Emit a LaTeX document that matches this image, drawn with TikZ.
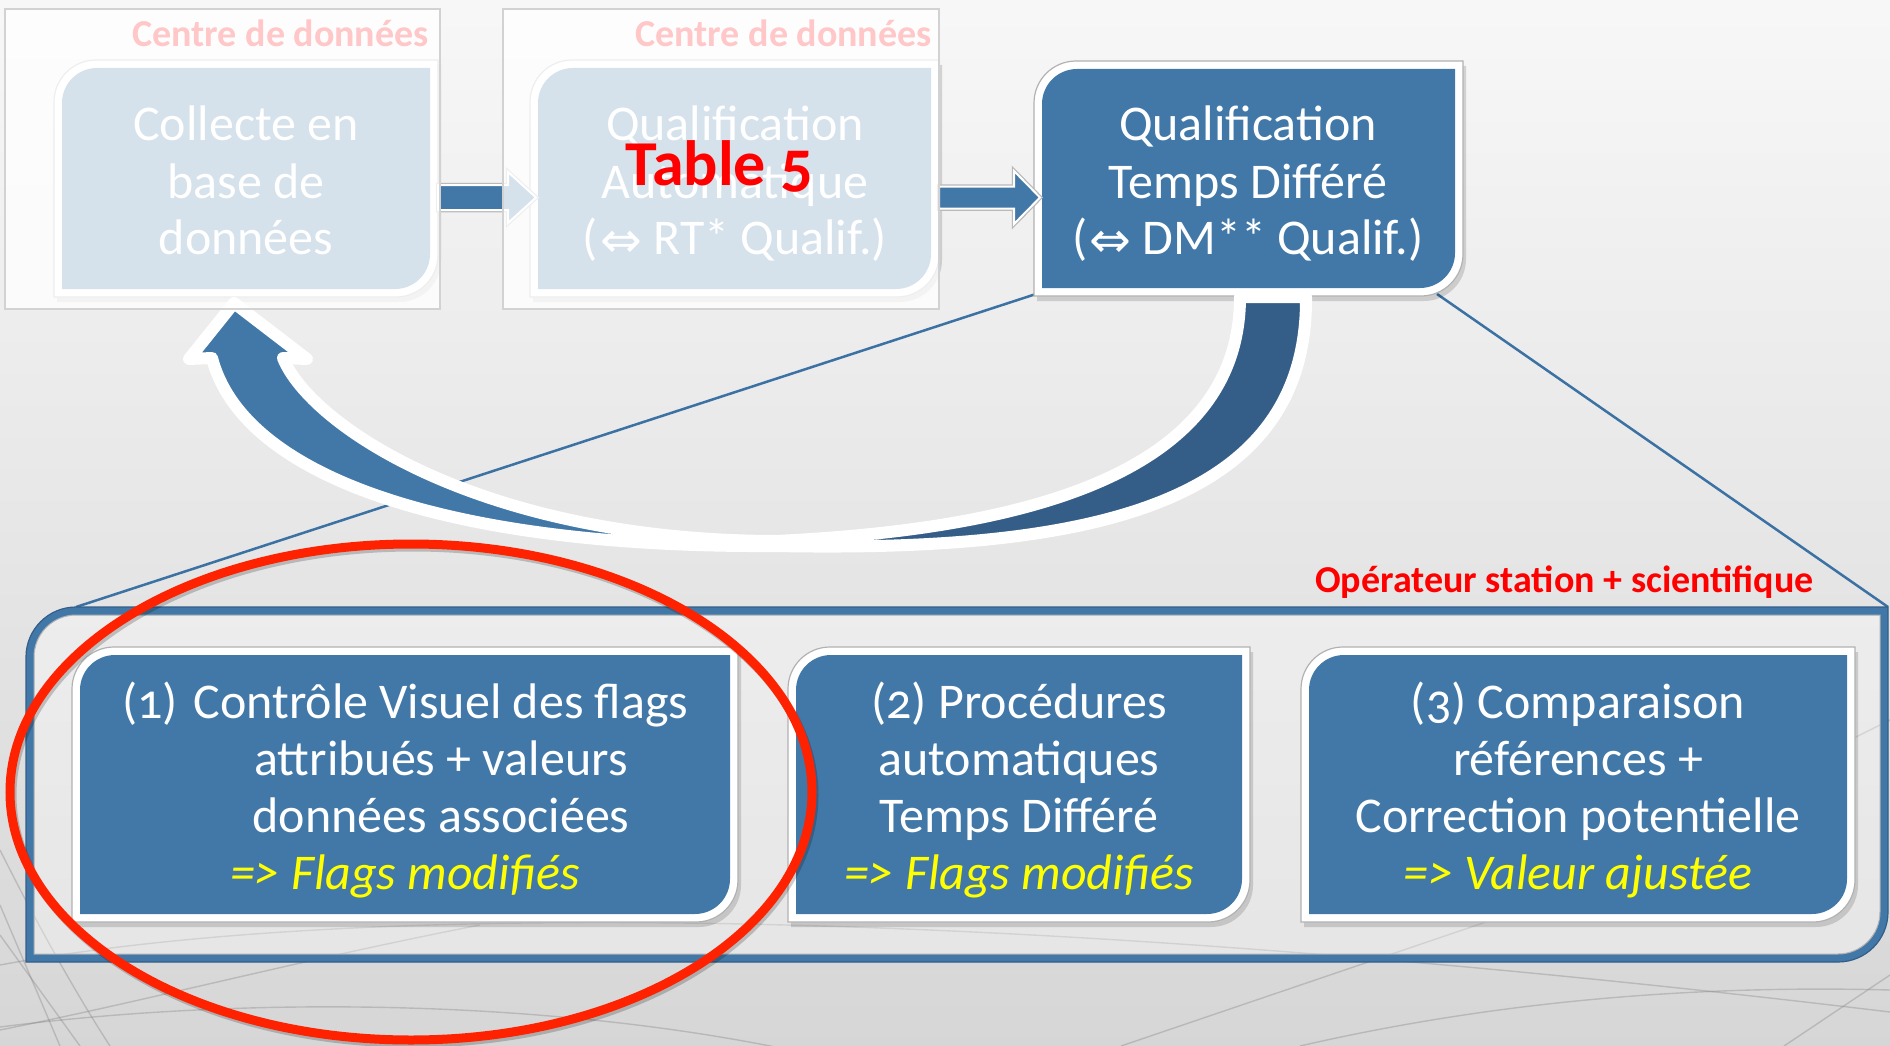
\documentclass[tikz,border=0pt]{standalone}
\usepackage{fontspec}
\setmainfont{Carlito}[Numbers=OldStyle]
\newfontfamily\symfont{DejaVu Sans}
\definecolor{boxblue}{HTML}{4178A8}
\definecolor{backblue}{HTML}{345E88}
\definecolor{linblue}{HTML}{3B71A3}
\definecolor{ringred}{HTML}{FF2200}
\definecolor{ylw}{HTML}{FFFF00}
\definecolor{frameline}{HTML}{D2D2D2}

% rounded-diagonal rectangle: x1 y1 x2 y2 radius (pixel coords, y down)
\newcommand\rdpath[5]{(#1,#2+#5) arc[start angle=180,end angle=90,radius=#5pt] -- (#3,#2) -- (#3,#4-#5) arc[start angle=0,end angle=-90,radius=#5pt] -- (#1,#4) -- cycle}
\newcommand\qbox[5]{%
  \fill[black,opacity=.14] \rdpath{#1+3}{#2+5}{#3+3}{#4+5}{42};
  \path[fill=white,draw=black!30,line width=1.2pt] \rdpath{#1}{#2}{#3}{#4}{42};
  \fill[#5] \rdpath{#1+8}{#2+8}{#3-8}{#4-8}{35};
}
\newcommand\eqv{\raisebox{-3pt}{\symfont\fontsize{50}{50}\selectfont ⇔}}

\tikzset{
  btxt/.style={anchor=base, inner sep=0pt, text=white, font={\fontsize{50}{57}\selectfont}},
  ytxt/.style={anchor=base, inner sep=0pt, text=ylw, font={\fontsize{50}{57}\selectfont\itshape}},
  redlab/.style={inner sep=0pt, text=red, font={\fontsize{38}{40}\selectfont\bfseries}},
  bgline/.style={draw=gray, line width=1.4pt, opacity=.35},
  thinlink/.style={draw=linblue, line width=2.5pt},
  blockarrow/.style={fill=boxblue, draw=white, line width=2pt},
  blockshade/.style={draw=gray!55, line width=4.5pt},
  ufront/.style={fill=boxblue, draw=white, line width=12pt, line join=round},
  uback/.style={fill=backblue, draw=white, line width=12pt, line join=round},
  fadeframe/.style={fill=white, fill opacity=.78, draw=frameline, line width=1.2pt},
  redring/.style={draw=ringred, line width=9pt},
}

\begin{document}
\begin{tikzpicture}[x=1pt,y=-1pt]
\useasboundingbox (0,0) rectangle (1890,1046);
% background
\shade[top color=white!97!black, middle color=white!95!black, bottom color=white!84!black] (0,0) rectangle (1890,1046);
\draw[bgline] (0,1027) .. controls (250,995) and (550,1000) .. (790,1050);
\draw[bgline] (0,965) .. controls (350,900) and (1000,905) .. (1890,1012);
\draw[bgline] (0,905) -- (60,1046);
\draw[bgline] (0,935) -- (80,1046);
\draw[bgline] (0,850) .. controls (40,930) and (80,1000) .. (110,1046);
\draw[bgline] (0,1030) .. controls (150,1000) and (300,960) .. (480,925);
\draw[bgline] (1121,1046) -- (1483,923) -- (1890,720);
\draw[bgline] (1784,1046) -- (1890,975);
\draw[bgline] (1300,1046) .. controls (1500,1000) and (1700,985) .. (1890,990);

% thin links from the deferred-time box to the operator container
\coordinate (b3sw) at (1036,294);
\coordinate (b3se) at (1437,294);
\coordinate (ctl) at (76,607);
\coordinate (ctr) at (1888,607);
\draw[thinlink] (b3sw) -- (ctl);
\draw[thinlink] (b3se) -- (ctr);

% operator container
\fill[white, opacity=.35] \rdpath{30}{611}{1884}{958}{46};
\draw[boxblue, line width=8pt] \rdpath{30}{611}{1884}{958}{46};
\draw[backblue, line width=1.2pt] \rdpath{26}{607}{1888}{962}{50};
\draw[gray!60, line width=1pt] \rdpath{34}{615}{1880}{954}{42};

% bottom boxes
\qbox{72}{647}{738}{922}{boxblue}
\qbox{788}{647}{1250}{922}{boxblue}
\qbox{1301}{647}{1855}{922}{boxblue}

\node[btxt, anchor=base west] (a0) at (122,718) {(1)};
\node[btxt] (a1) at (441,718) {Contrôle Visuel des flags};
\node[btxt] (a2) at (441,775) {attribués + valeurs};
\node[btxt] (a3) at (441,832) {données associées};
\node[ytxt] (a4) at (405,889) {=> Flags modifiés};

\node[btxt] (bb1) at (1019,718) {(2) Procédures};
\node[btxt] (bb2) at (1019,775) {automatiques};
\node[btxt] (bb3) at (1019,832) {Temps Différé};
\node[ytxt] (bb4) at (1019,889) {=> Flags modifiés};

\node[btxt] (c1) at (1578,718) {(3) Comparaison};
\node[btxt] (c2) at (1578,775) {références +};
\node[btxt] (c3) at (1578,832) {Correction potentielle};
\node[ytxt] (c4) at (1578,889) {=> Valeur ajustée};

% top boxes
\qbox{54}{60}{438}{297}{boxblue}
\qbox{530}{60}{939}{297}{boxblue}
\qbox{1034}{61}{1463}{296}{boxblue}

\node[btxt] (t11) at (246,141) {Collecte en};
\node[btxt] (t12) at (246,198) {base de};
\node[btxt] (t13) at (246,254) {données};

\node[btxt] (t21) at (735,141) {Qualification};
\node[btxt] (t22) at (735,198) {Automatique};
\node[btxt] (t23) at (735,254) {(\kern2pt\eqv\ RT* Qualif.)};

\node[btxt] (t31) at (1248,141) {Qualification};
\node[btxt] (t32) at (1248,198) {Temps Différé};
\node[btxt] (t33) at (1248,254) {(\kern2pt\eqv\ DM** Qualif.)};

% block arrows between the top boxes
\coordinate (b1e) at (438,197.5);
\coordinate (b2e) at (939,197.5);
\begin{scope}[shift={(b1e)}]
  \path[blockshade] (0,-12.5) -- (70,-12.5) -- (70,-25.5) -- (98,0) -- (70,25.5) -- (70,12.5) -- (0,12.5) -- cycle;
  \path[blockarrow] (0,-12.5) -- (70,-12.5) -- (70,-25.5) -- (98,0) -- (70,25.5) -- (70,12.5) -- (0,12.5) -- cycle;
\end{scope}
\begin{scope}[shift={(b2e)}]
  \path[blockshade] (0,-11) -- (75,-11) -- (75,-26.5) -- (101,0) -- (75,26.5) -- (75,11) -- (0,11) -- cycle;
  \path[blockarrow] (0,-11) -- (75,-11) -- (75,-26.5) -- (101,0) -- (75,26.5) -- (75,11) -- (0,11) -- cycle;
\end{scope}

% curved return arrow
\path[uback] (1306,297) .. controls (1308,510) and (1080,552) .. (775,546)
  -- (775,541) .. controls (1010,530) and (1240,480) .. (1240,297) -- cycle;
\path[ufront] (212,358) -- (189,359) -- (234,303) -- (307,359) -- (283,358)
  .. controls (310,425) and (480,540) .. (775,541)
  -- (775,546)
  .. controls (440,548) and (242,474) .. (212,358) -- cycle;

% data-centre labels and faded frames
\node[redlab, anchor=base east] (dc1) at (429,47) {Centre de données};
\node[redlab, anchor=base east] (dc2) at (932,47) {Centre de données};
\path[fadeframe] (5,9) rectangle (440,309);
\path[fadeframe] (503,9) rectangle (939,309);

\node[inner sep=0pt, anchor=base west, text=red, font={\fontsize{64}{64}\selectfont\bfseries}] (tab) at (625,185) {Table 5};
\node[redlab, anchor=base east] (op) at (1814,592) {Opérateur station + scientifique};

% red highlight ellipse
\draw[black, opacity=.2, line width=9pt] (413,795) ellipse [x radius=401pt, y radius=248pt];
\draw[redring] (411,792) ellipse [x radius=401pt, y radius=248pt];
\end{tikzpicture}
\end{document}
